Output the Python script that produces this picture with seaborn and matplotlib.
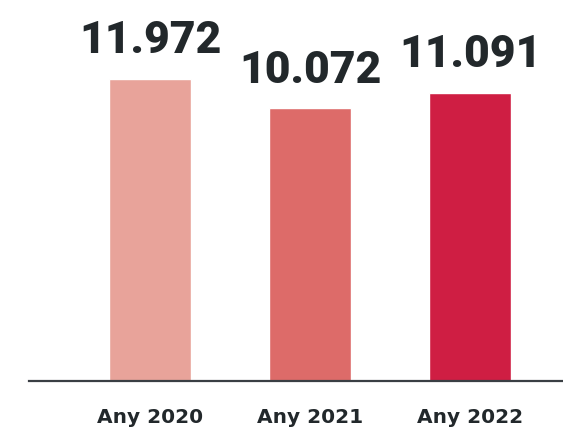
import pandas as pd
import seaborn as sns
import matplotlib.pyplot as plt

anys = ["Any 2020", "Any 2021", "Any 2022"]
valors = [11972, 10072, 11091]
etiquetes = ["11.972", "10.072", "11.091"]
colors = ["#E8A39A", "#DD6B69", "#CF1E43"]

# the original chart does not start its bars at zero
base = -7430

df = pd.DataFrame({"any": anys, "valor": valors})
df["alcada"] = df["valor"] - base

sns.set_style("white")
fig = plt.figure(figsize=(5.63, 4.31), dpi=100)
ax = fig.add_axes([29 / 563, 1 - 382 / 431, 1 - 29 / 563, 382 / 431])

sns.barplot(data=df, x="any", y="alcada", hue="any", palette=colors,
            width=0.516, bottom=base, legend=False, ax=ax, saturation=1)

ax.set_ylim(base, base + 382 / 0.015575)
ax.set_xlim(-0.756, 2.58)

for i, (v, t) in enumerate(zip(valors, etiquetes)):
    ax.annotate(t, (i, v), xytext=(0, 19), textcoords="offset points",
                ha="center", va="baseline", fontsize=32, fontweight="black",
                fontfamily="Roboto", color="#22282B")

sns.despine(ax=ax, left=True, top=True, right=True)
ax.spines["bottom"].set_color("#3A3F44")
ax.spines["bottom"].set_linewidth(1.6)
ax.set_yticks([])
ax.set_xlabel("")
ax.set_ylabel("")
ax.tick_params(axis="x", length=0, pad=18.5)
for lab in ax.get_xticklabels():
    lab.set_fontweight("bold")
    lab.set_fontsize(14.5)
    lab.set_color("#22282B")

fig.savefig("out.png", dpi=100)
